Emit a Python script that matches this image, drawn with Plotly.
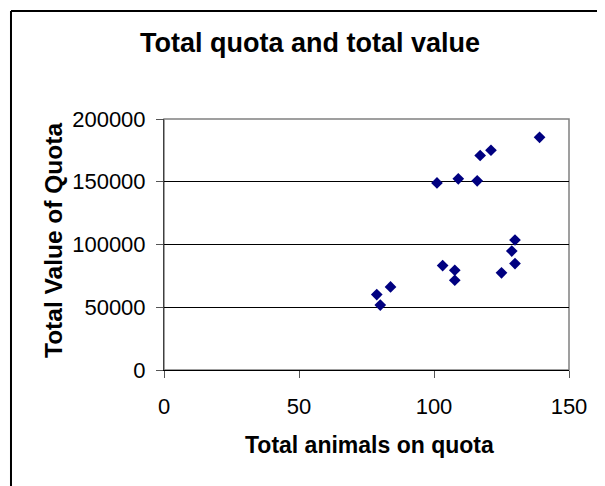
import plotly.graph_objects as go

# Data
total_animals = [78.8, 80.1, 83.9, 101.1, 103.2, 109.0, 107.7, 107.7,
                 116.0, 117.1, 121.1, 125.0, 128.8, 130.0, 130.0, 139.1]
total_value = [60100, 51700, 66200, 149100, 83200, 152300, 79500, 71500,
               150700, 170900, 175100, 77400, 94800, 103600, 84800, 185400]

x_ticks = [0, 50, 100, 150]
y_ticks = [0, 50000, 100000, 150000, 200000]

title_text = "Total quota and total value"
x_title = "Total animals on quota"
y_title = "Total Value of Quota"

FONT = "Liberation Sans, Arial, sans-serif"

fig = go.Figure()
fig.add_trace(go.Scatter(
    x=total_animals, y=total_value, mode="markers",
    marker=dict(symbol="diamond", size=9, color="#000080",
                line=dict(width=0)),
    showlegend=False, hoverinfo="x+y",
))

# The page body has an 8px margin, so the figure is sized/offset accordingly.
fig.update_layout(
    width=597, height=478,
    margin=dict(l=156, r=36, t=111, b=116),
    paper_bgcolor="white", plot_bgcolor="white",
    font=dict(family=FONT, color="black"),
    title=dict(text="<b>" + title_text + "</b>", x=0.5059, y=0.9268,
               xanchor="center", yanchor="middle",
               font=dict(family=FONT, size=27, color="black")),
    xaxis=dict(range=[0, 150], tickvals=x_ticks, ticktext=[str(v) for v in x_ticks],
               showgrid=False, zeroline=False, showline=True, linecolor="black",
               linewidth=1, ticks="outside", ticklen=7, tickcolor="#555555",
               tickfont=dict(family=FONT, size=22, color="black"),
               ticklabelstandoff=10, fixedrange=True),
    yaxis=dict(range=[0, 200000], tickvals=y_ticks, ticktext=[str(v) for v in y_ticks],
               showgrid=True, gridcolor="black", gridwidth=1, zeroline=False,
               showline=True, linecolor="#404040", linewidth=1, ticks="outside",
               ticklen=7, tickcolor="#555555",
               tickfont=dict(family=FONT, size=22, color="black"),
               ticklabelstandoff=6, fixedrange=True),
    shapes=[
        # plot-area border (grey top/right)
        dict(type="rect", xref="paper", yref="paper", x0=0, x1=1, y0=0, y1=1,
             line=dict(color="#808080", width=1.5), layer="below"),
        # chart-area border (top and left edges visible)
        dict(type="line", xref="paper", yref="paper", x0=-0.3778, x1=1.09,
             y0=1.430, y1=1.430, line=dict(color="black", width=2)),
        dict(type="line", xref="paper", yref="paper", x0=-0.3778, x1=-0.3778,
             y0=1.430, y1=-0.47, line=dict(color="black", width=2)),
    ],
    annotations=[
        dict(text="<b>" + x_title + "</b>", xref="paper", yref="paper",
             x=0.5086, y=-0.2988, xanchor="center", yanchor="middle",
             showarrow=False, font=dict(family=FONT, size=23, color="black")),
        dict(text="<b>" + y_title + "</b>", xref="paper", yref="paper",
             x=-0.2716, y=0.514, xanchor="center", yanchor="middle",
             textangle=-90, showarrow=False,
             font=dict(family=FONT, size=24.5, color="black")),
    ],
)

fig.write_html("out.html")
